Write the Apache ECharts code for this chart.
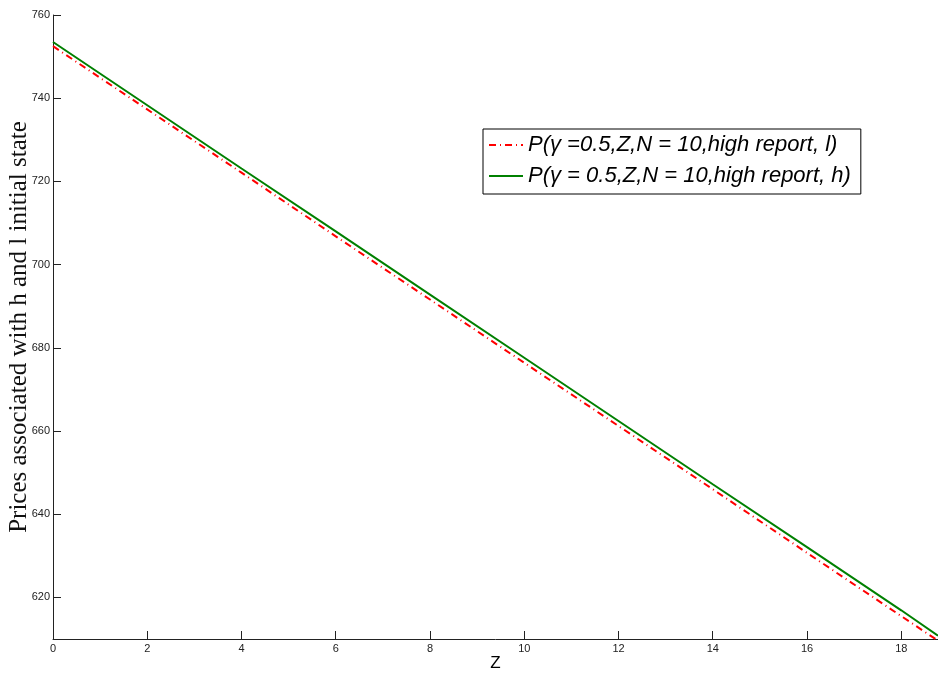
<!DOCTYPE html>
<html>
<head>
<meta charset="utf-8">
<script src="https://cdn.jsdelivr.net/npm/echarts@6/dist/echarts.min.js"></script>
<style>
  html, body { margin: 0; padding: 0; background: #fff; }
  #chart { width: 938px; height: 674px; }
</style>
</head>
<body>
<div id="chart"></div>
<script>
// values
let zValues = [0, 2, 4, 6, 8, 10, 12, 14, 16, 18, 18.78]
let priceL = [752.5, 737.3, 722.1, 706.8, 691.6, 676.4, 661.2, 646.0, 630.7, 615.5, 609.6]
let priceH = [753.5, 738.3, 723.1, 708.0, 692.8, 677.6, 662.4, 647.2, 632.1, 616.9, 610.8]
let xTicks = [0, 2, 4, 6, 8, 10, 12, 14, 16, 18]
let yTicks = [620, 640, 660, 680, 700, 720, 740, 760]
let nameL = 'P(γ =0.5,Z,N = 10,high report, l)'
let nameH = 'P(γ = 0.5,Z,N = 10,high report, h)'

let myChart = echarts.init(document.getElementById('chart'))
myChart.setOption({
  animation: false,
  grid: {
    left: 53,
    right: 0,
    top: 15,
    bottom: 35,
    containLabel: false,
    outerBoundsMode: 'none'
  },
  legend: {
    orient: 'vertical',
    left: 483,
    top: 129,
    padding: [5, 10, 7, 5],
    itemGap: 9,
    itemWidth: 34,
    itemHeight: 14,
    borderColor: '#000',
    borderWidth: 1,
    backgroundColor: '#fff',
    itemStyle: { opacity: 0 },
    textStyle: {
      fontFamily: 'Liberation Sans',
      fontStyle: 'italic',
      fontSize: 22,
      color: '#000'
    },
    data: [nameL, nameH]
  },
  xAxis: {
    type: 'value',
    min: 0,
    max: 18.78,
    name: 'Z',
    nameLocation: 'middle',
    nameGap: 16,
    nameMoveOverlap: false,
    nameTextStyle: {
      fontFamily: 'Liberation Sans',
      fontSize: 17,
      color: '#000'
    },
    splitLine: { show: false },
    axisLine: { lineStyle: { color: '#222', width: 1 } },
    axisTick: {
      inside: true,
      length: 8,
      customValues: xTicks,
      lineStyle: { color: '#222' }
    },
    axisLabel: {
      customValues: xTicks,
      margin: 4,
      fontFamily: 'Liberation Sans',
      fontSize: 11,
      color: '#222'
    }
  },
  yAxis: {
    type: 'value',
    min: 610,
    max: 760,
    name: 'Prices associated with h and l initial state',
    nameLocation: 'middle',
    nameRotate: 90,
    nameGap: 21,
    nameMoveOverlap: false,
    nameTextStyle: {
      fontFamily: 'Liberation Serif',
      fontSize: 25,
      color: '#111'
    },
    splitLine: { show: false },
    axisLine: { show: true, lineStyle: { color: '#222', width: 1 } },
    axisTick: {
      show: true,
      inside: true,
      length: 8,
      customValues: yTicks,
      lineStyle: { color: '#222' }
    },
    axisLabel: {
      customValues: yTicks,
      margin: 3,
      fontFamily: 'Liberation Sans',
      fontSize: 11,
      color: '#222'
    }
  },
  series: [{
    name: nameL,
    type: 'line',
    symbol: 'none',
    data: zValues.map((z, i) => [z, priceL[i]]),
    lineStyle: {
      color: '#ff0000',
      width: 2,
      type: [7, 4, 1, 4]
    },
    itemStyle: { color: '#ff0000' },
    z: 3
  }, {
    name: nameH,
    type: 'line',
    symbol: 'none',
    data: zValues.map((z, i) => [z, priceH[i]]),
    lineStyle: {
      color: '#008000',
      width: 2
    },
    itemStyle: { color: '#008000' },
    z: 2
  }]
})
</script>
</body>
</html>
